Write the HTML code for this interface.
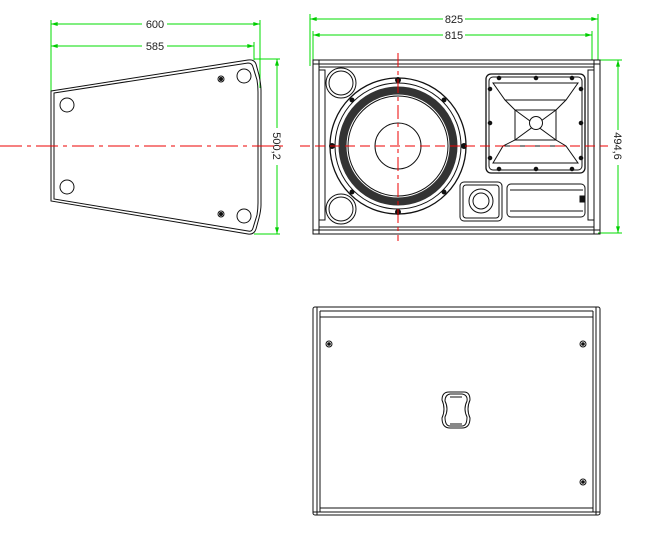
<!DOCTYPE html>
<html><head><style>html,body{margin:0;padding:0;background:#fff}svg{display:block}</style></head><body>
<svg width="669" height="558" viewBox="0 0 669 558" xmlns="http://www.w3.org/2000/svg" font-family="Liberation Sans, sans-serif">
<defs>
<marker id="a" viewBox="0 0 10 6" refX="10" refY="3" markerWidth="7" markerHeight="4" orient="auto-start-reverse"><path d="M0,0L10,3L0,6z" fill="#0c0"/></marker>
</defs>
<g stroke="#00dd00" stroke-width="1" fill="none">
<line x1="51" y1="20" x2="51" y2="91"/><line x1="260" y1="20" x2="260" y2="88"/><line x1="254" y1="42" x2="254" y2="60"/>
<line x1="51" y1="24" x2="142" y2="24" marker-start="url(#a)"/><line x1="167" y1="24" x2="260" y2="24" marker-end="url(#a)"/>
<line x1="51" y1="46" x2="142" y2="46" marker-start="url(#a)"/><line x1="167" y1="46" x2="254" y2="46" marker-end="url(#a)"/>
<line x1="254" y1="59" x2="280" y2="59"/><line x1="254" y1="234" x2="280" y2="234"/>
<line x1="277" y1="59" x2="277" y2="128" marker-start="url(#a)"/><line x1="277" y1="165" x2="277" y2="234" marker-end="url(#a)"/>
<line x1="310" y1="14" x2="310" y2="66"/><line x1="598" y1="14" x2="598" y2="60"/><line x1="313" y1="31" x2="313" y2="60"/><line x1="592" y1="31" x2="592" y2="60"/>
<line x1="310" y1="19" x2="443" y2="19" marker-start="url(#a)"/><line x1="465" y1="19" x2="598" y2="19" marker-end="url(#a)"/>
<line x1="313" y1="35" x2="443" y2="35" marker-start="url(#a)"/><line x1="465" y1="35" x2="592" y2="35" marker-end="url(#a)"/>
<line x1="598" y1="60" x2="622" y2="60"/><line x1="598" y1="233" x2="622" y2="233"/>
<line x1="618" y1="60" x2="618" y2="130" marker-start="url(#a)"/><line x1="618" y1="165" x2="618" y2="233" marker-end="url(#a)"/>
</g>
<g font-size="11" fill="#222" text-anchor="middle">
<text x="155" y="28">600</text><text x="155" y="50">585</text>
<text x="454" y="23">825</text><text x="454" y="39">815</text>
<text transform="translate(273,146) rotate(90)">500,2</text>
<text transform="translate(614,146) rotate(90)">494,6</text>
</g>
<g stroke="#111" fill="none" stroke-width="1">
<path d="M51,91 L248,60 Q254,59 256,64 L259,75 Q261,85 261,90 L261,205 Q261,210 259,218 L256,229 Q254,235 248,234 L51,201 Z"/>
<path d="M54,93 L248,63 Q252,63 253,67 L257,80 Q258,86 258,92 L258,203 Q258,209 257,215 L253,228 Q252,232 248,231 L54,199 Z"/>
<circle cx="67" cy="105" r="7"/><circle cx="67" cy="187" r="7"/><circle cx="244" cy="76" r="7"/><circle cx="244" cy="216" r="7"/>
<circle cx="221" cy="79" r="3"/><circle cx="221" cy="79" r="1.5" fill="#111"/><circle cx="221" cy="214" r="3"/><circle cx="221" cy="214" r="1.5" fill="#111"/>
</g>
<line x1="0" y1="146" x2="285" y2="146" stroke="#e00" stroke-width="1" stroke-dasharray="22,5,4,5"/>
<g stroke="#111" fill="none" stroke-width="1">
<rect x="313" y="60" width="287" height="174"/>
<line x1="319" y1="60" x2="319" y2="234"/><line x1="594" y1="60" x2="594" y2="234"/>
<line x1="313" y1="64" x2="600" y2="64"/><line x1="319" y1="67" x2="594" y2="67"/>
<line x1="313" y1="230" x2="600" y2="230"/><line x1="319" y1="227" x2="594" y2="227"/>
<rect x="319" y="70" width="6" height="150"/><rect x="588" y="70" width="6" height="150"/>
<circle cx="341" cy="83" r="15"/><circle cx="341" cy="83" r="12"/>
<circle cx="341" cy="209" r="15"/><circle cx="341" cy="209" r="12"/>
<circle cx="398" cy="146" r="68" stroke-width="1.3"/><circle cx="398" cy="146" r="63"/>
<circle cx="398" cy="146" r="55.5" stroke="#333" stroke-width="8"/>
<circle cx="398" cy="146" r="50"/><circle cx="398" cy="146" r="23"/>
<g fill="#111"><circle cx="398" cy="80" r="2.5"/><circle cx="398" cy="212" r="2.5"/><circle cx="332" cy="146" r="2.5"/><circle cx="464" cy="146" r="2.5"/>
<circle cx="352" cy="100" r="2"/><circle cx="444" cy="100" r="2"/><circle cx="352" cy="192" r="2"/><circle cx="444" cy="192" r="2"/></g>
<rect x="486" y="74" width="99" height="99" rx="5" stroke-width="1.3"/><rect x="489" y="77" width="93" height="93" rx="4"/>
<path d="M493,83 H578 L566,100 L556,110 V140 L566,146 L578,163 H493 L503,146 L515,140 V110 L505,100 Z"/>
<path d="M505,100 H566 M503,146 H566 M515,110 H556 M515,140 H556 M515,110 L556,140 M556,110 L515,140"/>
<circle cx="536" cy="123" r="6.5" fill="#fff"/>
<g fill="#111"><circle cx="499" cy="78" r="1.8"/><circle cx="536" cy="78" r="1.8"/><circle cx="572" cy="78" r="1.8"/><circle cx="499" cy="169" r="1.8"/><circle cx="536" cy="169" r="1.8"/><circle cx="572" cy="169" r="1.8"/><circle cx="490" cy="89" r="1.8"/><circle cx="490" cy="123" r="1.8"/><circle cx="490" cy="158" r="1.8"/><circle cx="581" cy="89" r="1.8"/><circle cx="581" cy="123" r="1.8"/><circle cx="581" cy="158" r="1.8"/></g>
<rect x="460" y="182" width="42" height="39" rx="4"/><rect x="463" y="185" width="36" height="33" rx="3"/>
<circle cx="481" cy="201" r="12"/><circle cx="481" cy="201" r="8"/>
<rect x="507" y="184" width="78" height="33" rx="4"/><line x1="510" y1="190" x2="583" y2="190"/><line x1="510" y1="211" x2="583" y2="211"/>
<rect x="580" y="196" width="4" height="6" fill="#111"/>
</g>
<line x1="300" y1="146" x2="608" y2="146" stroke="#e00" stroke-dasharray="10,5"/>
<line x1="398" y1="53" x2="398" y2="241" stroke="#e00" stroke-dasharray="14,4,4,4"/>
<g stroke="#111" fill="none" stroke-width="1">
<rect x="313" y="307" width="287" height="208" rx="2"/>
<line x1="317" y1="307" x2="317" y2="515"/><line x1="320" y1="311" x2="320" y2="512"/>
<line x1="596" y1="307" x2="596" y2="515"/><line x1="593" y1="311" x2="593" y2="512"/>
<line x1="320" y1="311" x2="593" y2="311"/><line x1="320" y1="317" x2="593" y2="317"/>
<line x1="320" y1="508" x2="593" y2="508"/><line x1="313" y1="512" x2="600" y2="512"/>
<circle cx="329" cy="344" r="3"/><circle cx="329" cy="344" r="1.3" fill="#111"/>
<circle cx="583" cy="344" r="3"/><circle cx="583" cy="344" r="1.3" fill="#111"/>
<circle cx="583" cy="482" r="3"/><circle cx="583" cy="482" r="1.3" fill="#111"/>
<path d="M449,392 H464 Q470,392 470,400 Q466,409 470,418 Q470,428 462,428 H450 Q442,428 442,418 Q446,409 442,400 Q442,392 449,392 Z"/>
<path d="M450,394 H462 Q468,395 467,401 Q463,409 467,417 Q467,426 462,426 H450 Q445,426 445,417 Q449,409 445,401 Q445,395 450,394 Z"/>
<line x1="450" y1="397" x2="462" y2="397"/><line x1="450" y1="424" x2="462" y2="424"/>
</g>
</svg>
</body></html>
